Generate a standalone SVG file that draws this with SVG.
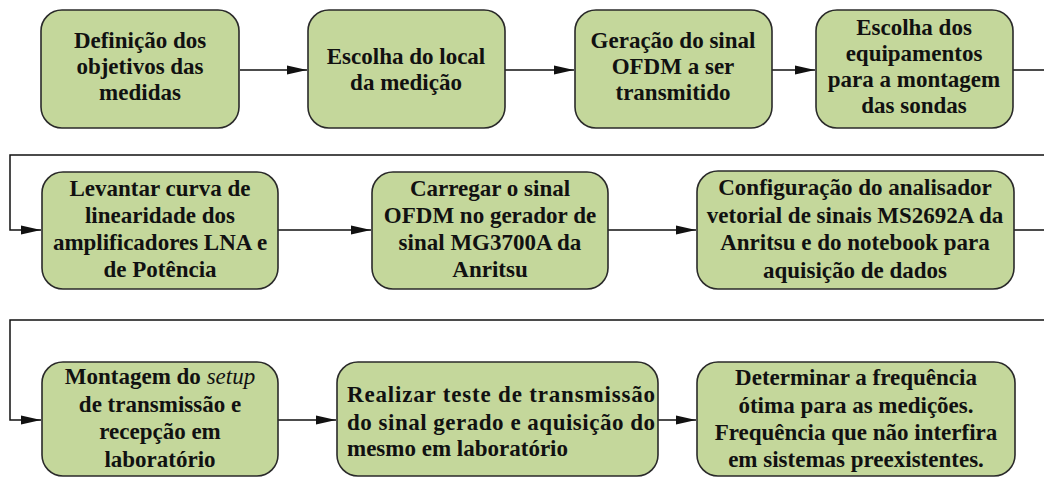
<svg xmlns="http://www.w3.org/2000/svg" width="1044" height="477" viewBox="0 0 1044 477">
<style>
.box{fill:#c4d79b;stroke:#2a2a2a;stroke-width:1.6}
.t{font-size:23px;font-weight:700;fill:#111;text-anchor:middle}
.tl{text-anchor:start}
.c{fill:none;stroke:#111;stroke-width:1.5}
</style>
<defs>
<marker id="ah" markerUnits="userSpaceOnUse" markerWidth="20" markerHeight="10" refX="20" refY="5" orient="auto">
<path d="M0,0.5 L20,5 L0,9.5 Z" fill="#111"/>
</marker>
</defs>
<rect width="1044" height="477" fill="#fff"/>
<g id="connectors">
<path class="c" d="M240,70 H307" marker-end="url(#ah)"/>
<path class="c" d="M505,70 H574" marker-end="url(#ah)"/>
<path class="c" d="M772,70 H815" marker-end="url(#ah)"/>
<path class="c" d="M1013,70 H1050 V155 H10 V230 H41" marker-end="url(#ah)"/>
<path class="c" d="M278,230 H371" marker-end="url(#ah)"/>
<path class="c" d="M608,230 H696" marker-end="url(#ah)"/>
<path class="c" d="M1014,230 H1050 V320 H10 V420 H41" marker-end="url(#ah)"/>
<path class="c" d="M278,420 H336" marker-end="url(#ah)"/>
<path class="c" d="M658,420 H696" marker-end="url(#ah)"/>
</g>
<g font-family="Liberation Serif, Times New Roman, serif">
<g id="n1"><rect class="box" x="41" y="10" width="198" height="118" rx="21"/>
<text class="t"><tspan x="140" y="48">Definição dos</tspan><tspan x="140" y="74">objetivos das</tspan><tspan x="140" y="100">medidas</tspan></text></g>
<g id="n2"><rect class="box" x="308" y="10" width="197" height="118" rx="21"/>
<text class="t"><tspan x="406" y="64">Escolha do local</tspan><tspan x="406" y="90">da medição</tspan></text></g>
<g id="n3"><rect class="box" x="575" y="10" width="197" height="118" rx="21"/>
<text class="t"><tspan x="673" y="48">Geração do sinal</tspan><tspan x="673" y="74">OFDM a ser</tspan><tspan x="673" y="100">transmitido</tspan></text></g>
<g id="n4"><rect class="box" x="816" y="10" width="197" height="118" rx="21"/>
<text class="t"><tspan x="914" y="35">Escolha dos</tspan><tspan x="914" y="61">equipamentos</tspan><tspan x="914" y="87">para a montagem</tspan><tspan x="914" y="113">das sondas</tspan></text></g>
<g id="n5"><rect class="box" x="42" y="172" width="236" height="117" rx="21"/>
<text class="t"><tspan x="160" y="196">Levantar curva de</tspan><tspan x="160" y="223">linearidade dos</tspan><tspan x="160" y="250">amplificadores LNA e</tspan><tspan x="160" y="277">de Potência</tspan></text></g>
<g id="n6"><rect class="box" x="372" y="172" width="236" height="117" rx="21"/>
<text class="t"><tspan x="490" y="196">Carregar o sinal</tspan><tspan x="490" y="223">OFDM no gerador de</tspan><tspan x="490" y="250">sinal MG3700A da</tspan><tspan x="490" y="277">Anritsu</tspan></text></g>
<g id="n7"><rect class="box" x="697" y="171" width="317" height="118" rx="21"/>
<text class="t"><tspan x="855" y="195">Configuração do analisador</tspan><tspan x="855" y="223">vetorial de sinais MS2692A da</tspan><tspan x="855" y="250">Anritsu e do notebook para</tspan><tspan x="855" y="278">aquisição de dados</tspan></text></g>
<g id="n8"><rect class="box" x="42" y="362" width="236" height="114" rx="21"/>
<text class="t"><tspan x="160" y="384">Montagem do <tspan font-style="italic" font-weight="normal">setup</tspan></tspan><tspan x="160" y="412">de transmissão e</tspan><tspan x="160" y="439">recepção em</tspan><tspan x="160" y="467">laboratório</tspan></text></g>
<g id="n9"><rect class="box" x="337" y="362" width="321" height="114" rx="21"/>
<text class="t tl"><tspan x="347" y="402" textLength="308" lengthAdjust="spacing">Realizar teste de transmissão</tspan><tspan x="347" y="430" textLength="308" lengthAdjust="spacing">do sinal gerado e aquisição do</tspan><tspan x="347" y="456">mesmo em laboratório</tspan></text></g>
<g id="n10"><rect class="box" x="697" y="362" width="318" height="114" rx="21"/>
<text class="t"><tspan x="856" y="385">Determinar a frequência</tspan><tspan x="856" y="413">ótima para as medições.</tspan><tspan x="856" y="440">Frequência que não interfira</tspan><tspan x="856" y="467">em sistemas preexistentes.</tspan></text></g>
</g>
</svg>
